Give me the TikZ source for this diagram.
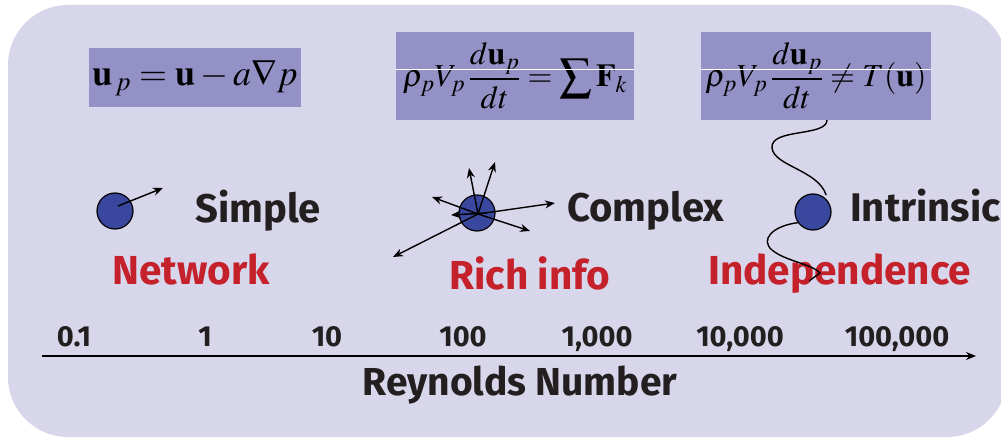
\documentclass[tikz,border=0pt]{standalone}
\usepackage{mathptmx}
\usepackage[no-math]{fontspec}
\setsansfont{Fira Sans}
\usetikzlibrary{arrows.meta}
\definecolor{bgc}{HTML}{D8D6EA}
\definecolor{eqc}{HTML}{9391C6}
\definecolor{ballc}{HTML}{3A479E}
\definecolor{redc}{HTML}{C4212B}
\definecolor{darkc}{HTML}{231F20}
\begin{document}
\begin{tikzpicture}[x=1pt,y=-1pt,
  eqbox/.style={fill=eqc, inner sep=0pt, text=black},
  ball/.style={circle, fill=ballc, draw=black, line width=1.2pt, minimum size=36pt, inner sep=0pt},
  lbl/.style={text=darkc, font=\sffamily\bfseries\fontsize{40}{44}\selectfont, inner sep=0pt, anchor=base west},
  redlbl/.style={text=redc, font=\sffamily\bfseries\fontsize{40.5}{44}\selectfont, inner sep=0pt, anchor=base west},
  ticklbl/.style={text=darkc, font=\sffamily\bfseries\fontsize{29}{32}\selectfont, inner sep=0pt, anchor=base},
  arr/.style={-{Stealth[length=10pt,width=8pt]}, line width=1.4pt},
  wave/.style={line width=1.4pt},
  sep/.style={white, line width=0.6pt}
]
\useasboundingbox (0,0) rectangle (1001,438);
\clip (0,0) rectangle (1001,438);
\fill[bgc, rounded corners=60pt] (8,5) rectangle (1007,437);

% equation boxes
\node[eqbox, minimum width=212pt, minimum height=59pt] (eq1) at (195,77.5)
  {\fontsize{36}{40}\selectfont$\mathbf{u}_{\,p}=\mathbf{u}-a\nabla p$};
\node[eqbox, minimum width=238pt, minimum height=88pt] (eq2) at (515,76)
  {\fontsize{32}{36}\selectfont\raisebox{-3pt}{$\displaystyle \rho_{p}V_{p}\,\frac{d\mathbf{u}_{p}}{dt}=\sum\mathbf{F}_{k}$}};
\node[eqbox, minimum width=230pt, minimum height=88pt] (eq3) at (816,76)
  {\fontsize{32}{36}\selectfont\raisebox{-3pt}{$\displaystyle \rho_{p}V_{p}\,\frac{d\mathbf{u}_{p}}{dt}\neq T(\mathbf{u})$}};
\draw[sep] (eq2.west |- 0,69) -- (eq2.east |- 0,69);
\draw[sep] (eq3.west |- 0,69) -- (eq3.east |- 0,69);

% particles
\node[ball] (c1) at (115,211) {};
\node[ball] (c2) at (477,213) {};
\node[ball] (c3) at (813,212) {};

% labels
\node[lbl] (simple) at (195,223) {Simple};
\node[lbl] (complex) at (567,222) {Complex};
\node[lbl] (intr) at (850,222) {Intrinsic};
\node[redlbl] (net) at (112,285) {Network};
\node[redlbl] (rich) at (449,290) {Rich info};
\node[redlbl] (ind) at (708,285) {Independence};

% arrows
\coordinate (s1) at (163,188);
\draw[arr] ([shift={(3,-5)}]c1.center) -- (s1);
\coordinate (k1) at (495,162);
\coordinate (k2) at (469,168);
\coordinate (k3) at (432,197);
\coordinate (k4) at (555,203);
\coordinate (k5) at (530,231);
\coordinate (k6) at (393,257);
\coordinate (k7) at (451,215);
\coordinate (k0) at (478,214);
\draw[arr] (k0) -- (k1);
\draw[arr] (k0) -- (k2);
\draw[arr] (k0) -- (k3);
\draw[arr] (k0) -- (k4);
\draw[arr] (k0) -- (k5);
\draw[arr] (k0) -- (k6);
\draw[arr] ([shift={(8,-1)}]k0) -- (k7);

% wavy connectors
\coordinate (w1) at (827,120);
\draw[wave] (w1) .. controls (827,137) and (770,128) .. (772,148)
  .. controls (774,166) and (818,170) .. (c3.north east |- 0,195);
\coordinate (w2) at (820,273);
\coordinate (w3) at (809,281);
\draw[wave] (c3.-145) .. controls (772,226) and (760,240) .. (772,250)
  .. controls (785,261) and (812,264) .. (w2) -- (w3);

% axis
\coordinate (ax0) at (42,356);
\coordinate (ax1) at (976,356);
\draw[-{Stealth[length=10pt,width=8pt]}, line width=1.8pt] (ax0) -- (ax1);
\node[ticklbl] (t1) at (74,346) {0.1};
\node[ticklbl] (t2) at (205,346) {1};
\node[ticklbl] (t3) at (327,346) {10};
\node[ticklbl] (t4) at (463,346) {100};
\node[ticklbl] (t5) at (597,346) {1,000};
\node[ticklbl] (t6) at (740,346) {10,000};
\node[ticklbl] (t7) at (897,346) {100,000};
\node[ticklbl, font=\sffamily\bfseries\fontsize{39}{42}\selectfont] (rey) at (520,395) {Reynolds Number};
\end{tikzpicture}
\end{document}
